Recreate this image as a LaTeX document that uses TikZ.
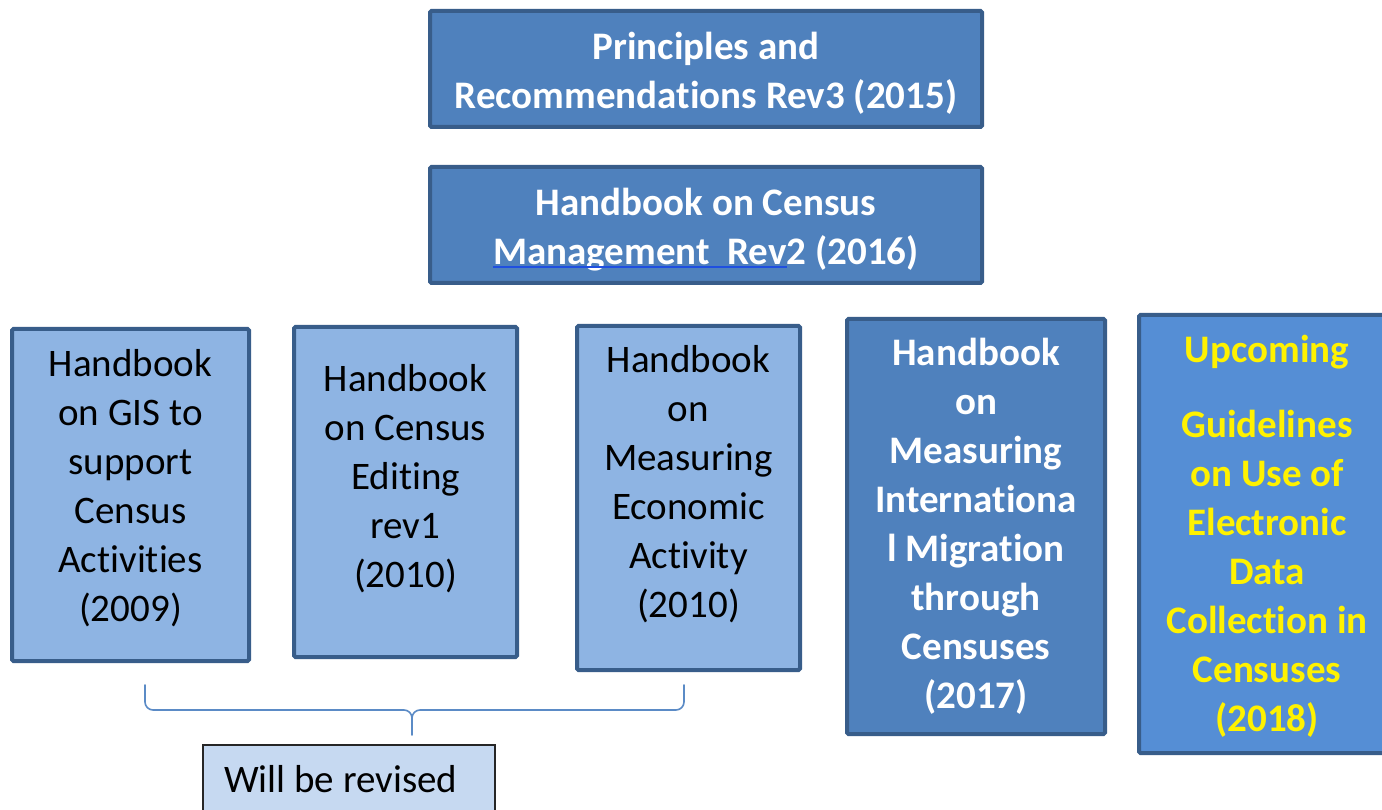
\documentclass[tikz,border=0pt]{standalone}
\usepackage{fontspec}
\setmainfont[Ligatures={NoCommon}]{Carlito}
\definecolor{dfill}{HTML}{4F81BD}
\definecolor{dborder}{HTML}{385D8A}
\definecolor{lfill}{HTML}{8EB4E3}
\definecolor{ufill}{HTML}{558ED5}
\definecolor{rfill}{HTML}{C6D9F1}
\definecolor{brc}{HTML}{5B8BC6}
\definecolor{ulc}{HTML}{1F4FE0}
\begin{document}
\begin{tikzpicture}[x=1pt,y=-1pt,
  boxbase/.style={rectangle, draw=dborder, line width=4pt, rounded corners=1.5pt, inner sep=0pt},
  darkbox/.style={boxbase, fill=dfill},
  lightbox/.style={boxbase, fill=lfill},
  upbox/.style={boxbase, fill=ufill},
  wtext/.style={text=white, font=\fontsize{39}{49}\selectfont\bfseries, align=center, inner sep=0pt},
  btext/.style={text=black, font=\fontsize{39}{49}\selectfont, align=center, inner sep=0pt},
  ytext/.style={text=yellow, font=\fontsize{39}{49}\selectfont\bfseries, align=center, inner sep=0pt},
  bracepath/.style={draw=brc, line width=1.6pt},
  revbox/.style={rectangle, draw=black!85, line width=1.5pt, fill=rfill, inner sep=0pt}
]
\useasboundingbox (0,0) rectangle (1382,810);
\fill[white] (0,0) rectangle (1382,810);

% top boxes
\node[darkbox, minimum width=552pt, minimum height=116pt] (pr) at (706,69) {};
\node[wtext] (prt) at (706,73) {Principles and\\Recommendations Rev3 (2015)};

\node[darkbox, minimum width=552pt, minimum height=116pt] (hb) at (706,225) {};
\node[wtext] (hbt) at (706,230) {Handbook on Census\\Management~~Rev2 (2016)};
\coordinate (ul1) at (493,267);
\coordinate (ul2) at (787,267);
\draw[ulc, line width=1.2pt] (ul1) -- (ul2);

% light boxes
\node[lightbox, minimum width=237pt, minimum height=332pt] (gis) at (130.5,495) {};
\node[btext] (gist) at (130.5,488) {Handbook\\on GIS to\\support\\Census\\Activities\\(2009)};

\node[lightbox, minimum width=223pt, minimum height=330pt] (ed) at (405.5,492) {};
\node[btext] (edt) at (405.5,479) {Handbook\\on Census\\Editing\\rev1\\(2010)};

\node[lightbox, minimum width=223pt, minimum height=344pt] (ec) at (688.5,498) {};
\node[btext] (ect) at (688.5,484) {Handbook\\on\\Measuring\\Economic\\Activity\\(2010)};

% dark box
\node[darkbox, minimum width=258pt, minimum height=415pt] (mi) at (976,526.5) {};
\node[wtext] (mit) at (976,526) {Handbook\\on\\Measuring\\Internationa\\l Migration\\through\\Censuses\\(2017)};

% upcoming box
\node[upbox, minimum width=252pt, minimum height=438pt] (up) at (1265,534) {};
\node[ytext] (upt) at (1267,536) {Upcoming\\[26pt]Guidelines\\on Use of\\Electronic\\Data\\Collection in\\Censuses\\(2018)};

% brace
\coordinate (bl) at (145,685);
\coordinate (br) at (684,685);
\coordinate (bm) at (412,735);
\draw[bracepath, line cap=round, line join=round]
  (bl) -- (145,702) to[out=-90,in=180] (153,710) -- (404,710)
  to[out=0,in=90] (412,718) -- (bm);
\draw[bracepath, line cap=round, line join=round]
  (br) -- (684,702) to[out=-90,in=0] (676,710) -- (420,710)
  to[out=180,in=90] (412,718);

% will be revised
\node[revbox, minimum width=292pt, minimum height=100pt] (rev) at (349,795) {};
\node[btext, anchor=west] (revt) at (224,779) {Will be revised};
\end{tikzpicture}
\end{document}
